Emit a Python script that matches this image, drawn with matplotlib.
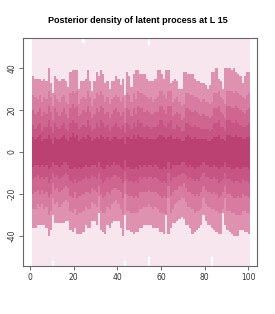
import numpy as np
import matplotlib
matplotlib.use("Agg")
import matplotlib.pyplot as plt

# locations along the transect (one column per location)
locs = np.arange(1, 101)

# outer envelope (clipped by the plot frame except a few columns)
top0 = [55] * 100
bot0 = [-55] * 100
top0[23] = 52
top0[53] = 51
bot0[9] = -52
bot0[42] = -52
bot0[53] = -50
bot0[82] = -50

# quantile band edges
up1 = [36, 35, 35, 35, 34, 35, 34, 40, 33, 28, 36, 35, 34, 35, 35, 34, 31, 38, 39, 39,
       39, 30, 34, 34, 35, 39, 34, 29, 34, 38, 36, 39, 37, 33, 34, 30, 34, 34, 36, 35,
       32, 35, 27, 38, 36, 31, 37,
       39, 39, 37, 37, 37, 35, 34, 34, 34, 35, 39, 39, 37, 35, 39, 39, 33, 34, 35, 34,
       30, 30, 38, 38, 37, 37, 37, 35, 34, 34, 33, 33, 32, 30, 32, 38, 38, 40, 35, 34,
       30, 40, 40, 40, 39, 40, 38, 37, 36, 33, 36, 38, 38]
lo1 = [-36, -36, -35, -35, -35, -35, -36, -40, -37, -30, -34, -34, -34, -34, -34, -33, -33, -37, -38, -36,
       -39, -39, -39, -38, -35, -36, -36, -33, -33, -35, -29, -37, -38, -39, -35, -36, -34, -33, -33, -33,
       -36, -40, -30, -37, -37, -38, -39,
       -38, -38, -36, -36, -35, -35, -35, -35, -36, -36, -36, -38, -38, -39, -29, -39, -36, -34, -34, -33,
       -32, -31, -32, -35, -35, -36, -39, -38, -37, -36, -35, -30, -33, -35, -35, -36, -37, -38, -39, -39,
       -29, -35, -37, -38, -39, -40, -40, -40, -37, -37, -38, -38, -39]
up2 = [27, 26, 25, 27, 24, 26, 25, 29, 26, 22, 27, 25, 24, 26, 27, 24, 23, 28, 29, 28,
       29, 23, 25, 26, 25, 29, 26, 22, 25, 28, 27, 29, 27, 24, 26, 23, 25, 26, 27, 26,
       24, 26, 21, 28, 27, 24, 28, 25, 29, 28, 28, 27, 26, 25, 26, 24, 25, 26, 29, 29,
       27, 25, 29, 29, 24, 25, 26, 24, 22, 23, 28, 28, 27, 27, 26, 26, 25, 24, 25, 24,
       24, 23, 24, 28, 28, 29, 26, 25, 23, 29, 29, 29, 28, 29, 28, 27, 26, 25, 27, 28]
lo2 = [-27, -27, -25, -26, -25, -27, -26, -30, -28, -22, -25, -24, -26, -25, -24, -23, -24, -28, -29, -27,
       -30, -29, -29, -28, -26, -27, -27, -24, -25, -26, -21, -28, -29, -29, -26, -27, -25, -24, -23, -25,
       -27, -30, -20, -28, -28, -29, -29, -29, -29, -27, -27, -26, -26, -25, -26, -27, -26, -27, -29, -29,
       -29, -30, -22, -29, -27, -25, -24, -23, -22, -22, -24, -26, -26, -27, -29, -28, -28, -27, -22, -25,
       -26, -26, -27, -27, -28, -29, -29, -27, -22, -28, -28, -29, -29, -30, -30, -30, -28, -28, -29, -29]
up3 = [20, 18, 19, 21, 17, 19, 18, 22, 19, 15, 21, 19, 17, 19, 21, 18, 16, 21, 23, 21,
       22, 17, 18, 20, 19, 22, 19, 16, 18, 21, 19, 22, 21, 18, 19, 16, 18, 20, 21, 19,
       17, 19, 14, 21, 20, 17, 21, 18, 22, 21, 21, 19, 20, 19, 18, 18, 19, 19, 22, 22,
       20, 18, 22, 22, 17, 18, 19, 18, 15, 16, 21, 21, 20, 19, 20, 19, 18, 17, 18, 17,
       17, 16, 17, 21, 21, 22, 19, 18, 16, 22, 22, 21, 21, 22, 21, 20, 19, 18, 20, 21]
lo3 = [-20, -19, -18, -20, -18, -20, -19, -22, -20, -15, -18, -17, -19, -18, -17, -16, -17, -21, -22, -19,
       -22, -21, -21, -20, -19, -19, -20, -17, -18, -19, -16, -20, -22, -21, -19, -20, -18, -17, -17, -18,
       -19, -22, -14, -20, -21, -21, -22, -21, -22, -19, -19, -19, -19, -18, -19, -19, -19, -20, -21, -22,
       -21, -22, -16, -21, -19, -18, -18, -16, -16, -15, -17, -19, -19, -20, -21, -20, -21, -19, -16, -18,
       -19, -19, -20, -19, -20, -22, -21, -19, -16, -20, -20, -21, -22, -22, -21, -22, -20, -21, -21, -22]
up4 = [13, 11, 13, 14, 10, 12, 12, 15, 12, 9, 14, 12, 11, 13, 14, 11, 10, 14, 15, 14,
       14, 11, 12, 13, 12, 15, 13, 10, 11, 14, 12, 15, 14, 12, 13, 10, 12, 13, 14, 12,
       11, 13, 9, 14, 13, 11, 14, 12, 15, 14, 14, 12, 13, 12, 11, 12, 12, 13, 15, 15,
       13, 12, 14, 15, 11, 11, 13, 12, 10, 10, 14, 14, 13, 12, 13, 12, 12, 11, 11, 11,
       11, 10, 11, 14, 14, 15, 12, 12, 10, 15, 15, 14, 14, 15, 14, 13, 12, 12, 13, 14]
lo4 = [-13, -12, -11, -13, -12, -13, -12, -15, -13, -10, -12, -11, -13, -12, -11, -10, -11, -14, -15, -13,
       -15, -14, -14, -13, -12, -13, -13, -11, -12, -13, -10, -13, -15, -14, -12, -13, -12, -11, -11, -12,
       -13, -15, -9, -13, -14, -14, -15, -14, -15, -12, -13, -12, -13, -12, -12, -13, -12, -13, -14, -15,
       -14, -15, -10, -14, -12, -12, -12, -11, -10, -10, -11, -13, -12, -13, -14, -13, -14, -12, -10, -12,
       -12, -13, -13, -12, -13, -15, -14, -13, -10, -13, -13, -14, -15, -14, -14, -15, -13, -14, -14, -15]
up5 = [7, 6, 7, 8, 5, 6, 6, 8, 6, 4, 7, 6, 6, 7, 8, 6, 5, 7, 9, 7,
       8, 5, 6, 7, 6, 8, 7, 5, 6, 7, 6, 8, 7, 6, 7, 5, 6, 7, 7, 6,
       6, 7, 4, 7, 7, 6, 8, 6, 8, 7, 7, 6, 7, 6, 6, 6, 6, 7, 8, 8,
       7, 6, 7, 8, 6, 6, 7, 6, 5, 5, 7, 8, 7, 6, 7, 6, 6, 6, 6, 6,
       5, 5, 6, 7, 7, 8, 6, 6, 5, 8, 8, 7, 7, 8, 7, 7, 6, 6, 7, 7]
lo5 = [-7, -6, -6, -7, -6, -7, -6, -8, -7, -5, -6, -6, -7, -6, -5, -5, -6, -8, -8, -7,
       -8, -7, -8, -7, -6, -7, -7, -6, -6, -7, -5, -7, -8, -8, -6, -7, -6, -5, -6, -6,
       -7, -8, -4, -7, -7, -8, -8, -7, -8, -6, -7, -6, -7, -6, -6, -7, -6, -7, -8, -8,
       -7, -8, -5, -8, -6, -6, -6, -6, -5, -5, -6, -7, -6, -7, -8, -7, -7, -6, -5, -6,
       -6, -7, -7, -6, -7, -8, -7, -7, -5, -7, -7, -8, -8, -7, -7, -8, -7, -7, -7, -8]

bands = [(top0, bot0), (up1, lo1), (up2, lo2), (up3, lo3), (up4, lo4), (up5, lo5)]
shades = ["#f8e6ee", "#df92b0", "#d77ba0", "#cf6690", "#c65584", "#bc4173"]

fig = plt.figure(figsize=(2.75, 3.14), dpi=100)
ax = fig.add_axes([0.084, 0.153, 0.851, 0.726])

for (hi, lo), col in zip(bands, shades):
    hi = np.array(hi)
    lo = np.array(lo)
    ax.bar(locs, hi - lo, bottom=lo, width=1.0, align="edge", color=col, linewidth=0)

ax.set_xlim(-3.2, 104.1)
ax.set_ylim(-54.3, 54.3)
ax.set_xticks([0, 20, 40, 60, 80, 100])
ax.set_yticks([-40, -20, 0, 20, 40])
ax.set_yticklabels(["-40", "-20", "0", "20", "40"], rotation=90, va="center")
ax.tick_params(labelsize=5.5, length=3, width=0.6, color="#555555", labelcolor="#333333", pad=2)
for s in ax.spines.values():
    s.set_color("#666666")
    s.set_linewidth(0.8)

fig.text(0.5, 0.936, "Posterior density of latent process at L 15", ha="center", va="center",
         fontsize=6.5, fontweight="bold", family="Liberation Sans")

fig.savefig("out.png", dpi=100)
